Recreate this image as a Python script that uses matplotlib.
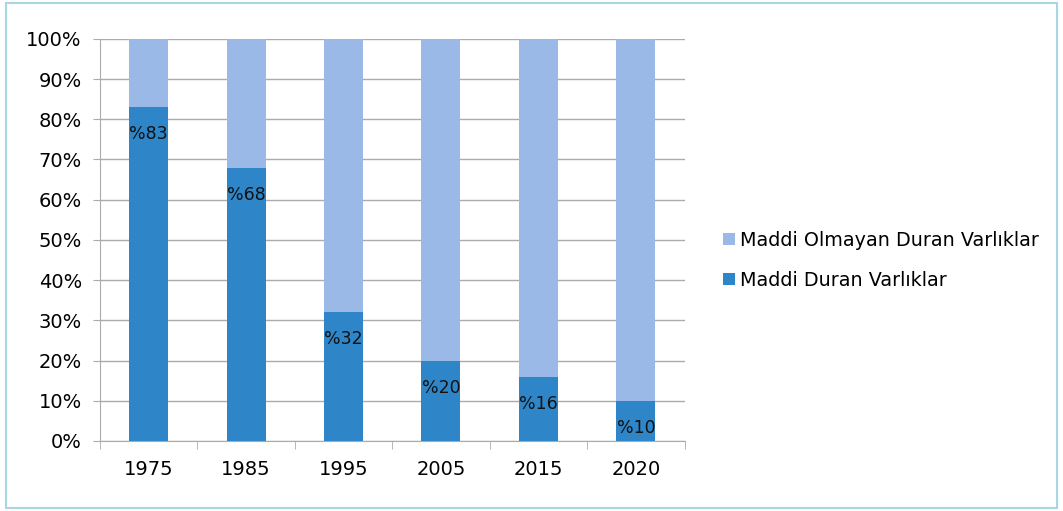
import numpy as np
import matplotlib.pyplot as plt
from matplotlib.patches import Rectangle

# Veriler
yillar = ["1975", "1985", "1995", "2005", "2015", "2020"]
maddi = [83, 68, 32, 20, 16, 10]
maddi_olmayan = [17, 32, 68, 80, 84, 90]

koyu = "#2E86C8"
acik = "#9AB9E6"
gri = "#ABABAB"

plt.rcParams["font.family"] = ["DejaVu Sans"]

fig = plt.figure(figsize=(10.63, 5.11), dpi=100)
ax = fig.add_axes([0.094, 0.137, 0.550, 0.787])

x = np.arange(len(yillar))
ax.bar(x, maddi, width=0.4, color=koyu, label="Maddi Duran Varlıklar", zorder=3)
ax.bar(x, maddi_olmayan, width=0.4, bottom=maddi, color=acik,
       label="Maddi Olmayan Duran Varlıklar", zorder=3)

for xi, v in zip(x, maddi):
    ax.annotate("%" + str(v), (xi, v), xytext=(0, -18), textcoords="offset pixels",
                ha="center", va="top", fontsize=12.5, color="#111111", zorder=4)

ax.set_xlim(-0.5, len(yillar) - 0.5)
ax.set_ylim(0, 100)
ax.set_yticks(np.arange(0, 101, 10))
ax.set_yticklabels([f"{t}%" for t in range(0, 101, 10)], fontsize=14)
ax.set_xticks(x)
ax.set_xticklabels(yillar, fontsize=14)
ax.set_xticks(np.arange(-0.5, len(yillar), 1), minor=True)
ax.tick_params(axis="x", which="major", length=0, pad=14)
ax.tick_params(axis="x", which="minor", length=6, color=gri)
ax.tick_params(axis="y", length=5, color=gri, pad=8)
ax.grid(axis="y", color=gri, linewidth=1, zorder=0)

for s in ["top", "right"]:
    ax.spines[s].set_visible(False)
ax.spines["left"].set_color(gri)
ax.spines["bottom"].set_color(gri)

handles, labels = ax.get_legend_handles_labels()
fig.legend(handles[::-1], labels[::-1], loc="center left",
           bbox_to_anchor=(0.664, 0.49), frameon=False, fontsize=13.8,
           handlelength=0.6, handleheight=0.6, handletextpad=0.3,
           labelspacing=1.1)

fig.patches.append(Rectangle((0.006, 0.006), 0.988, 0.988, transform=fig.transFigure,
                             fill=False, edgecolor="#A9D6E5", linewidth=1.5))

fig.savefig("out.png", dpi=100)
